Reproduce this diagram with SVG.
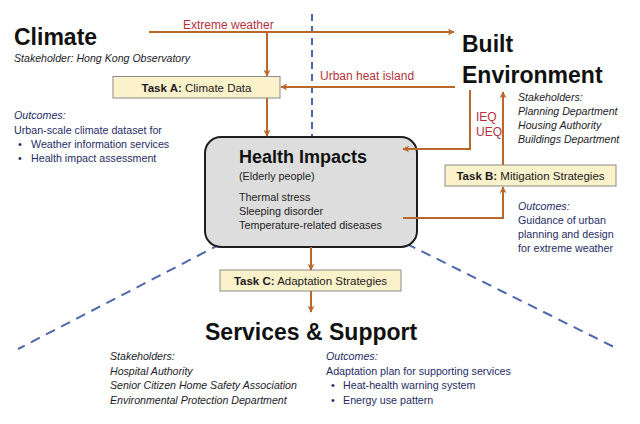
<svg xmlns="http://www.w3.org/2000/svg" width="640" height="424" viewBox="0 0 640 424">
<style>
text{font-family:"Liberation Sans",Arial,sans-serif;}
.title{font-size:23px;font-weight:bold;fill:#111;}
.stk{font-size:10.6px;font-style:italic;fill:#1c1c28;}
.out{font-size:10.7px;fill:#1f2d66;}
.outi{font-size:10.7px;font-style:italic;fill:#1f2d66;}
.red{font-size:12px;fill:#b4323c;}
.task{fill:#fbf1cb;stroke:#8c8c8c;stroke-width:1;}
.tt{font-size:11.5px;fill:#1a1a1a;text-anchor:middle;}
.arr{fill:none;stroke:#b9672c;stroke-width:2;}
.dash{fill:none;stroke:#4f68ad;stroke-width:2;}
.hb{font-size:10.8px;fill:#222;}
</style>
<defs>
<marker id="ah" viewBox="0 0 10 10" refX="9" refY="5" markerWidth="7" markerHeight="7" markerUnits="userSpaceOnUse" orient="auto">
<path d="M0,0 L10,5 L0,10 L3,5 z" fill="#b9672c"/>
</marker>
</defs>

<g id="dividers">
<line class="dash" x1="312" y1="14" x2="312" y2="138" stroke-dasharray="7,5"/>
<line class="dash" x1="236" y1="236" x2="18" y2="349" stroke-dasharray="10,7"/>
<line class="dash" x1="391" y1="236" x2="616" y2="348" stroke-dasharray="10,7"/>
</g>

<g id="climate">
<text class="title" x="14" y="45">Climate</text>
<text class="stk" x="14" y="62" font-size="11">Stakeholder: Hong Kong Observatory</text>
<text class="outi" x="14" y="119">Outcomes:</text>
<text class="out" x="14" y="133.5">Urban-scale climate dataset for</text>
<text class="out" x="18" y="148">•</text>
<text class="out" x="31" y="148">Weather information services</text>
<text class="out" x="18" y="162">•</text>
<text class="out" x="31" y="162">Health impact assessment</text>
</g>

<g id="built-environment">
<text class="title" x="462" y="52">Built</text>
<text class="title" x="462" y="83">Environment</text>
<text class="stk" x="518" y="101">Stakeholders:</text>
<text class="stk" x="518" y="115">Planning Department</text>
<text class="stk" x="518" y="129">Housing Authority</text>
<text class="stk" x="518" y="143">Buildings Department</text>
<text class="outi" x="518" y="210">Outcomes:</text>
<text class="out" x="518" y="224">Guidance of urban</text>
<text class="out" x="518" y="238">planning and design</text>
<text class="out" x="518" y="252">for extreme weather</text>
</g>

<g id="task-a">
<rect class="task" x="113" y="76.5" width="167" height="21.5"/>
<text class="tt" x="196.5" y="91.5"><tspan font-weight="bold">Task A:</tspan> Climate Data</text>
</g>

<g id="task-b">
<rect class="task" x="445" y="165" width="171" height="21"/>
<text class="tt" x="530.5" y="179.5"><tspan font-weight="bold">Task B:</tspan> Mitigation Strategies</text>
</g>

<g id="task-c">
<rect class="task" x="220" y="270" width="181" height="21"/>
<text class="tt" x="310.5" y="284.5"><tspan font-weight="bold">Task C:</tspan> Adaptation Strategies</text>
</g>

<g id="health-impacts">
<rect x="205" y="137" width="212" height="110" rx="16" ry="16" fill="#dddddd" stroke="#1e1e1e" stroke-width="2"/>
<text x="239" y="163" font-size="18" font-weight="bold" fill="#111">Health Impacts</text>
<text class="hb" x="239" y="180">(Elderly people)</text>
<text class="hb" x="239" y="201">Thermal stress</text>
<text class="hb" x="239" y="215">Sleeping disorder</text>
<text class="hb" x="239" y="229">Temperature-related diseases</text>
</g>

<g id="services-support">
<text class="title" x="205" y="340">Services &amp; Support</text>
<text class="stk" x="110" y="360">Stakeholders:</text>
<text class="stk" x="110" y="374.5">Hospital Authority</text>
<text class="stk" x="110" y="389">Senior Citizen Home Safety Association</text>
<text class="stk" x="110" y="403.5">Environmental Protection Department</text>
<text class="outi" x="326" y="360">Outcomes:</text>
<text class="out" x="326" y="374.5">Adaptation plan for supporting services</text>
<text class="out" x="331" y="389">•</text>
<text class="out" x="343" y="389">Heat-health warning system</text>
<text class="out" x="331" y="403.5">•</text>
<text class="out" x="343" y="403.5">Energy use pattern</text>
</g>

<g id="connectors">
<line class="arr" x1="149" y1="32" x2="454" y2="32" marker-end="url(#ah)"/>
<line class="arr" x1="267" y1="32" x2="267" y2="76" marker-end="url(#ah)"/>
<line class="arr" x1="455" y1="87" x2="281" y2="87" marker-end="url(#ah)"/>
<line class="arr" x1="267" y1="98" x2="267" y2="136" marker-end="url(#ah)"/>
<polyline class="arr" points="470,90 470,149 403,149" marker-end="url(#ah)"/>
<line class="arr" x1="503" y1="165" x2="503" y2="92" marker-end="url(#ah)"/>
<polyline class="arr" points="403,218 503,218 503,187" marker-end="url(#ah)"/>
<line class="arr" x1="311" y1="247" x2="311" y2="270" marker-end="url(#ah)"/>
<line class="arr" x1="311" y1="291" x2="311" y2="312" marker-end="url(#ah)"/>
<text class="red" x="183" y="29">Extreme weather</text>
<text class="red" x="320" y="80">Urban heat island</text>
<text class="red" x="476" y="121" font-size="11.5">IEQ</text>
<text class="red" x="476" y="136" font-size="11.5">UEQ</text>
</g>
</svg>
